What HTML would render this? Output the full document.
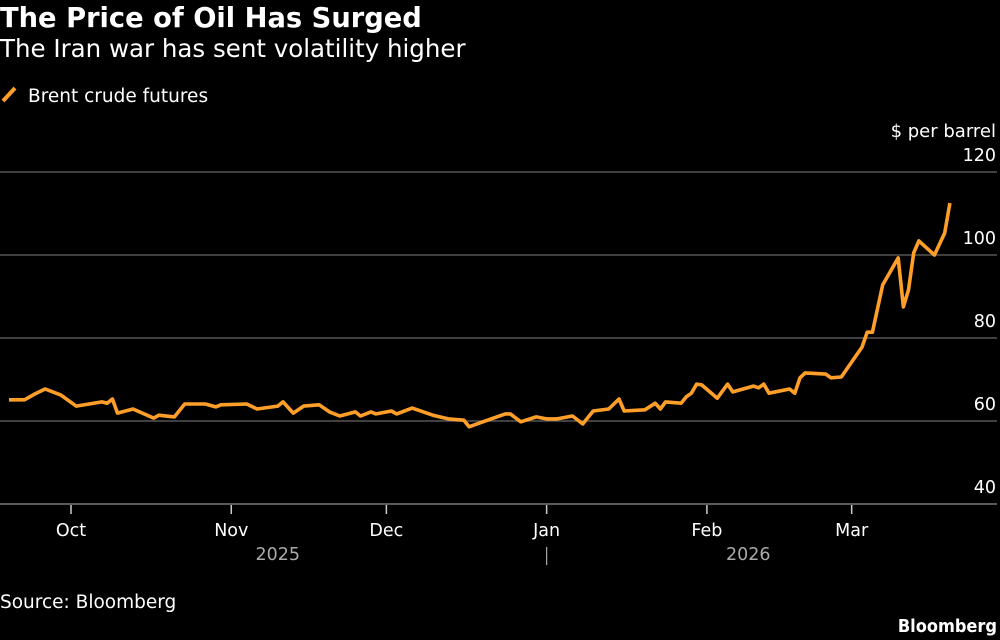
<!DOCTYPE html>
<html><head><meta charset="utf-8"><style>
body{margin:0;background:#000;width:1000px;height:640px;overflow:hidden;font-family:"DejaVu Sans","Liberation Sans",sans-serif;}
svg{display:block}
</style></head><body>
<svg width="1000" height="640" xmlns="http://www.w3.org/2000/svg">
<text x="0" y="27" fill="#fff" font-size="27.3" font-weight="bold" font-family="DejaVu Sans, sans-serif">The Price of Oil Has Surged</text>
<text x="0" y="57" fill="#fff" font-size="24.5" font-family="DejaVu Sans, sans-serif">The Iran war has sent volatility higher</text>
<line x1="3" y1="101" x2="15" y2="88" stroke="#ff9f29" stroke-width="4"/>
<text x="28" y="102" fill="#fff" font-size="18.5" font-family="DejaVu Sans, sans-serif">Brent crude futures</text>
<text x="996" y="137" fill="#fff" font-size="18" text-anchor="end" font-family="DejaVu Sans, sans-serif">$ per barrel</text>
<g id="grid"></g>
<g id="xaxis"></g>
<path id="line" fill="none" stroke="#ff9f29" stroke-width="3.6" stroke-linejoin="round"/>
<text x="0" y="608" fill="#fff" font-size="18.5" font-family="DejaVu Sans, sans-serif">Source: Bloomberg</text>
<text x="997" y="632" fill="#fff" font-size="18" font-weight="bold" text-anchor="end" font-family="DejaVu Sans Condensed, DejaVu Sans, sans-serif">Bloomberg</text>
</svg>
<script>
// days relative to 2025-10-01
const days=[-12,-9,-7,-5,-2,1,6,7,8,9,12,16,17,20,22,26,28,29,34,36,40,41,43,45,48,50,52,55,56,58,59,62,63,66,70,73,76,77,79,84,85,87,90,92,94,97,99,101,104,106,107,111,113,114,115,118,119,120,121,122,125,127,128,132,133,134,135,139,140,141,142,146,147,149,153,154,155,157,160,161,162,163,164,167,169,170];
const prices=[65.1,65.1,66.5,67.7,66.3,63.6,64.6,64.3,65.3,61.9,62.9,60.7,61.4,61.0,64.1,64.1,63.4,63.9,64.1,62.9,63.6,64.6,61.9,63.6,63.9,62.2,61.2,62.2,61.2,62.2,61.7,62.4,61.7,63.1,61.4,60.5,60.2,58.6,59.5,61.7,61.7,59.8,61.0,60.5,60.5,61.2,59.3,62.4,62.9,65.3,62.4,62.7,64.3,62.9,64.6,64.3,65.8,66.7,68.9,68.7,65.5,68.9,67.0,68.4,68.0,68.9,66.7,67.7,66.7,70.4,71.6,71.3,70.4,70.6,77.8,81.4,81.4,92.8,99.3,87.5,91.6,100.5,103.4,100.0,105.3,112.5];
const yTicks=[40,60,80,100,120];
const monthLabels=["Oct","Nov","Dec","Jan","Feb","Mar"];
const monthDays=[0,31,61,92,123,151];
const yearLabels=["2025","2026"];
const yearDays=[40,131];

const X=d=>71+d*5.17;
const Y=v=>421-(v-60)*4.15;
const NS="http://www.w3.org/2000/svg";
function mk(tag,attrs,parent,text){const e=document.createElementNS(NS,tag);for(const k in attrs)e.setAttribute(k,attrs[k]);if(text!=null)e.textContent=text;parent.appendChild(e);return e;}
const grid=document.getElementById('grid');
yTicks.forEach(v=>{
  const l=mk('line',{x1:0,x2:997,y1:Y(v),y2:Y(v),stroke:v===40?'#777':'#555','stroke-width':1.5},grid);
  
  
  const t=mk('text',{x:996,y:Y(v)-11,fill:'#fff','font-size':17.5,'text-anchor':'end','font-family':'DejaVu Sans, sans-serif'},grid,String(v));
  
  
});
const xa=document.getElementById('xaxis');
monthLabels.forEach((m,i)=>{
  const x=X(monthDays[i]);
  const tk=mk('line',{x1:x,x2:x,y1:505,y2:514,stroke:'#ccc','stroke-width':1.5},xa);
  
  
  const t=mk('text',{x:x,y:536,fill:'#fff','font-size':17.5,'text-anchor':'middle','font-family':'DejaVu Sans, sans-serif'},xa,m);
  
  
});
yearLabels.forEach((y,i)=>{
  const t=mk('text',{x:X(yearDays[i]),y:560,fill:'#aaa','font-size':17.5,'text-anchor':'middle','font-family':'DejaVu Sans, sans-serif'},xa,y);
  
  
});
const sep=mk('line',{x1:X(92),x2:X(92),y1:547,y2:565,stroke:'#aaa','stroke-width':1.2},xa);


document.getElementById('line').setAttribute('d',days.map((d,i)=>(i?'L':'M')+X(d).toFixed(1)+','+Y(prices[i]).toFixed(1)).join(''));
</script>
</body></html>
